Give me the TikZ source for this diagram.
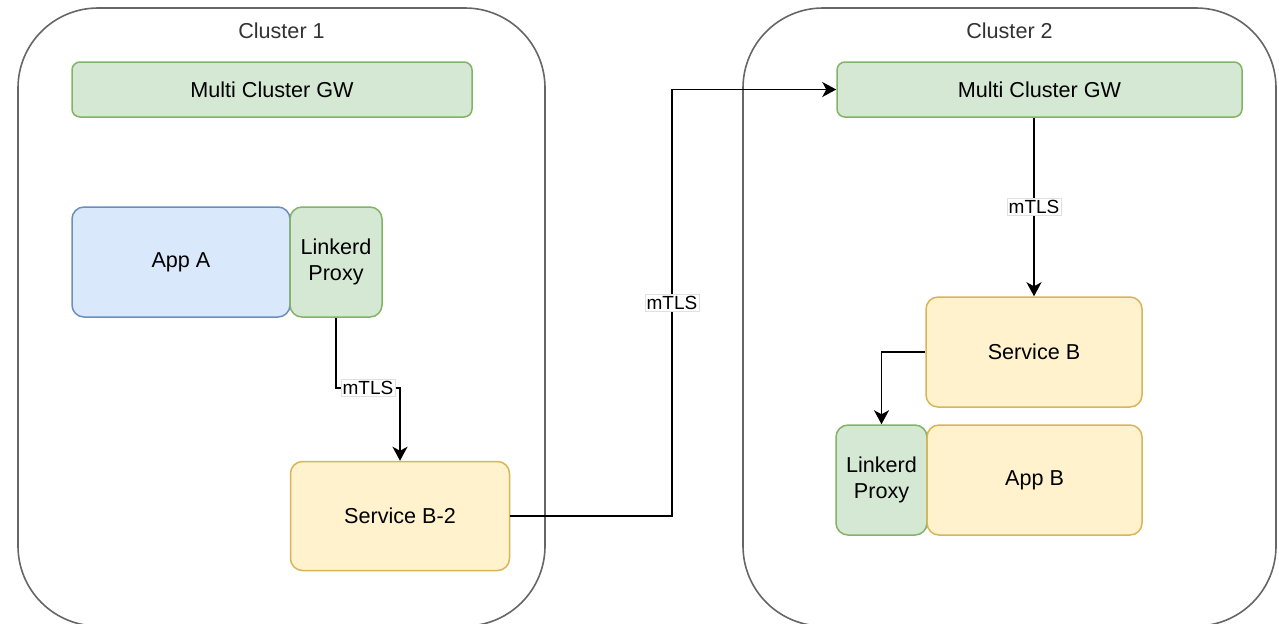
\documentclass[tikz,border=0pt]{standalone}
\usepackage{fontspec}
\setmainfont{Liberation Sans}
\usetikzlibrary{arrows.meta}

\definecolor{gwfill}{HTML}{D5E8D4}
\definecolor{gwline}{HTML}{82B366}
\definecolor{appfill}{HTML}{DAE8FC}
\definecolor{appline}{HTML}{6C8EBF}
\definecolor{svcfill}{HTML}{FFF2CC}
\definecolor{svcline}{HTML}{D6B656}
\definecolor{clline}{HTML}{666666}

\begin{document}
\begin{tikzpicture}[x=0.5pt,y=-0.5pt,
  every node/.style={font=\fontsize{10.8}{13}\selectfont, align=center},
  cluster/.style={draw=clline, line width=0.8pt, fill=white, rounded corners=40pt,
    minimum height=309pt},
  green/.style={draw=gwline, fill=gwfill, line width=0.75pt, rounded corners=6pt,
    minimum height=55pt},
  blue/.style={draw=appline, fill=appfill, line width=0.75pt, rounded corners=6pt,
    minimum height=55pt},
  yellow/.style={draw=svcline, fill=svcfill, line width=0.75pt, rounded corners=6pt,
    minimum height=55pt},
  arr/.style={-{Stealth[length=7pt,width=7.5pt,inset=2pt]}, line width=0.9pt},
  lbl/.style={fill=white, draw=black!12, line width=0.3pt, inner sep=0.8pt,
    font=\fontsize{9.5}{11}\selectfont}]
\useasboundingbox (0,0) rectangle (1279,623);

% clusters
\node [cluster, minimum width=263.5pt] (cl1) at (281.5,317) {};
\node [cluster, minimum width=266.5pt] (cl2) at (1009.5,317) {};
\node [text=black!80] (cl1lbl) at ([yshift=-12pt]cl1.north) {Cluster 1};
\node [text=black!80] (cl2lbl) at ([yshift=-12pt]cl2.north) {Cluster 2};

% cluster 1
\node [green, minimum width=200pt, minimum height=27.5pt, rounded corners=4pt] (gw1) at (272,89.5) {Multi Cluster GW};
\node [blue, minimum width=109pt] (appa) at (181,262) {App A};
\node [green, minimum width=46pt] (proxya) at (336,262) {Linkerd\\Proxy};
\node [yellow, minimum width=109.5pt, minimum height=54.5pt] (svcb2) at (400,516) {Service B-2};

% cluster 2
\node [green, minimum width=202.5pt, minimum height=27.5pt, rounded corners=4pt] (gw2) at (1039.5,89.5) {Multi Cluster GW};
\node [yellow, minimum width=108pt] (svcb) at (1034,352) {Service B};
\node [green, minimum width=45.5pt] (proxyb) at (881.5,480) {Linkerd\\Proxy};
\node [yellow, minimum width=107.5pt] (appb) at (1034.5,480) {App B};

% connections
\draw [arr] (proxya.south) -- (proxya.south |- 0,388)
  -- node [lbl] {mTLS} (svcb2.north |- 0,388) -- (svcb2.north);
\draw [arr] (svcb2.east) -- (svcb2.east -| 672,0)
  -- node [lbl] {mTLS} (gw2.west -| 672,0) -- (gw2.west);
\draw [arr] (gw2.south -| svcb.north) -- node [lbl] {mTLS} (svcb.north);
\draw [arr] (svcb.west) -| (proxyb.north);
\end{tikzpicture}
\end{document}
